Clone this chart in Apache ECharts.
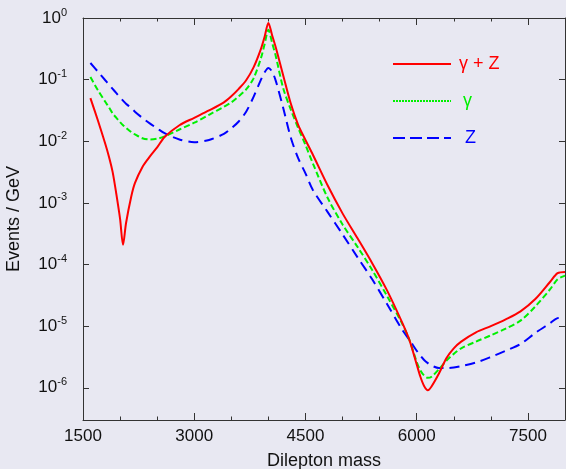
<!DOCTYPE html>
<html><head><meta charset="utf-8">
<script src="https://cdn.jsdelivr.net/npm/echarts@6/dist/echarts.min.js"></script>
<style>html,body{margin:0;padding:0;background:#e8e8f2;}#c{width:566px;height:469px;}</style>
</head><body><div id="c"></div>
<script>
// Dilepton mass grid (GeV)
const mass = [1600,1700,1800,1850,1900,1950,2000,2040,2080,2150,2200,2300,2400,2500,2600,2800,3000,3200,3400,3500,3600,3700,3800,3900,3950,4000,4050,4100,4200,4300,4400,4500,4600,4800,5000,5200,5400,5600,5800,5900,6000,6050,6100,6150,6200,6300,6400,6500,6600,6800,7000,7200,7400,7600,7800,7900,8000];
// Events / GeV
const gammaZ = [5.01e-2,2.19e-2,9.12e-3,5.62e-3,3.16e-3,1.38e-3,5.50e-4,2.09e-4,4.68e-4,1.26e-3,2.09e-3,3.80e-3,5.62e-3,7.94e-3,1.17e-2,1.82e-2,2.40e-2,3.16e-2,4.27e-2,5.37e-2,7.08e-2,9.77e-2,0.158,0.316,0.501,0.832,0.525,0.331,0.117,4.17e-2,1.86e-2,1.05e-2,6.03e-3,1.91e-3,6.76e-4,2.69e-4,1.05e-4,3.80e-5,1.17e-5,6.03e-6,2.40e-6,1.51e-6,1.07e-6,9.12e-7,1.05e-6,1.70e-6,3.02e-6,4.37e-6,5.62e-6,7.94e-6,1.00e-5,1.29e-5,1.74e-5,2.75e-5,5.25e-5,7.24e-5,7.59e-5];
const gammaOnly = [0.110,6.76e-2,4.37e-2,3.55e-2,2.82e-2,2.40e-2,2.04e-2,1.82e-2,1.66e-2,1.41e-2,1.29e-2,1.12e-2,1.07e-2,1.10e-2,1.20e-2,1.55e-2,2.00e-2,2.69e-2,3.63e-2,4.27e-2,5.37e-2,6.92e-2,0.105,0.224,0.380,0.646,0.398,0.240,7.24e-2,3.31e-2,1.66e-2,8.71e-3,4.37e-3,1.20e-3,4.47e-4,1.95e-4,8.13e-5,3.09e-5,1.12e-5,6.03e-6,2.63e-6,1.91e-6,1.58e-6,1.45e-6,1.51e-6,2.00e-6,2.75e-6,3.55e-6,4.37e-6,5.62e-6,7.08e-6,9.12e-6,1.23e-5,2.09e-5,3.98e-5,5.75e-5,6.61e-5];
const zOnly = [0.186,0.135,9.77e-2,8.32e-2,7.08e-2,6.03e-2,5.13e-2,4.57e-2,4.07e-2,3.47e-2,3.02e-2,2.40e-2,1.95e-2,1.62e-2,1.35e-2,1.07e-2,9.66e-3,1.05e-2,1.32e-2,1.62e-2,2.09e-2,3.02e-2,5.25e-2,0.100,0.132,0.155,0.135,9.55e-2,3.47e-2,1.17e-2,5.37e-3,3.02e-3,1.62e-3,7.08e-4,3.09e-4,1.32e-4,5.75e-5,2.29e-5,8.91e-6,6.03e-6,3.98e-6,3.31e-6,2.82e-6,2.51e-6,2.29e-6,2.09e-6,2.09e-6,2.14e-6,2.24e-6,2.57e-6,3.16e-6,3.98e-6,5.13e-6,7.76e-6,1.12e-5,1.35e-5,1.38e-5];
const seriesNames = ['γ + Z', 'γ', 'Z'];
const xTickLabels = [1500, 3000, 4500, 6000, 7500];
const yExponents = [0, -1, -2, -3, -4, -5, -6];

const FONT = "'Liberation Sans', Arial, Helvetica, sans-serif";
const AX = '#333';
const chart = echarts.init(document.getElementById('c'), null, {renderer: 'canvas'});

function xAxisDef(pos, interval, len, labels) {
  return {
    type: 'value', position: pos, min: 1500, max: 8000, interval: interval,
    axisLine: {show: labels !== null, lineStyle: {color: AX, width: 1}},
    axisTick: {show: true, inside: true, length: len, lineStyle: {color: AX}},
    splitLine: {show: false},
    axisLabel: labels ? {
      show: true, fontFamily: FONT, fontSize: 17, color: '#111', margin: 8,
      formatter: v => xTickLabels.includes(v) ? String(v) : ''
    } : {show: false},
    name: labels ? 'Dilepton mass' : '', nameLocation: 'middle', nameGap: 32,
    nameTextStyle: {fontFamily: FONT, fontSize: 18, color: '#111'}
  };
}
function yAxisDef(pos, labels) {
  return {
    type: 'log', logBase: 10, position: pos, min: 3e-7, max: 1,
    axisLine: {show: true, lineStyle: {color: AX, width: 1}},
    axisTick: {show: true, inside: true, length: 6, lineStyle: {color: AX}},
    splitLine: {show: false}, minorTick: {show: false},
    axisLabel: labels ? {
      show: true, margin: 16, fontFamily: FONT,
      formatter: v => {
        const l = Math.log10(v); const e = Math.round(l);
        if (Math.abs(l - e) > 0.01 || !yExponents.includes(e)) return '';
        return '{b|10}{s|' + e + '}';
      },
      rich: {
        b: {fontFamily: FONT, fontSize: 17, color: '#111', lineHeight: 22},
        s: {fontFamily: FONT, fontSize: 11, color: '#111', verticalAlign: 'top', lineHeight: 12}
      }
    } : {show: false},
    name: labels ? 'Events / GeV' : '', nameLocation: 'middle', nameGap: 60, nameRotate: 90,
    nameTextStyle: {fontFamily: FONT, fontSize: 18, color: '#111'}
  };
}

const colors = ['#ff0000', '#00f000', '#0000ff'];
const dashes = ['solid', [6, 3], [10, 6]];
const datasets = [gammaZ, gammaOnly, zOnly];
const noSymbol = {color: 'rgba(0,0,0,0)', borderWidth: 0, opacity: 0};

chart.setOption({
  backgroundColor: '#e8e8f2',
  animation: false,
  grid: {left: 83, right: 1, top: 18, bottom: 49, containLabel: false, outerBoundsMode: 'none'},
  xAxis: [
    xAxisDef('bottom', 1500, 7, true),
    xAxisDef('bottom', 500, 3.5, null),
    xAxisDef('top', 1500, 7, false),
    xAxisDef('top', 500, 3.5, null)
  ],
  yAxis: [yAxisDef('left', true), yAxisDef('right', false)],
  legend: {
    orient: 'vertical', left: 387, top: 50, itemWidth: 58, itemHeight: 18, itemGap: 19,
    textStyle: {fontFamily: FONT, fontSize: 18, lineHeight: 18},
    itemStyle: noSymbol,
    data: [
      {name: seriesNames[0], itemStyle: noSymbol, textStyle: {color: colors[0], padding: [0, 0, 0, 3]}},
      {name: seriesNames[1], itemStyle: noSymbol, textStyle: {color: colors[1], padding: [0, 0, 0, 7]}, lineStyle: {type: [2, 1], width: 2}},
      {name: seriesNames[2], itemStyle: noSymbol, textStyle: {color: colors[2], padding: [0, 0, 0, 9]}, lineStyle: {type: [12, 5]}}
    ]
  },
  series: datasets.map((d, k) => ({
    name: seriesNames[k], type: 'line', xAxisIndex: 0, yAxisIndex: 0,
    symbol: 'none', smooth: 0.3, z: 3 - k,
    lineStyle: {color: colors[k], width: 2, type: dashes[k]},
    itemStyle: {color: colors[k]},
    data: mass.map((m, i) => [m, d[i]])
  }))
});
</script></body></html>
